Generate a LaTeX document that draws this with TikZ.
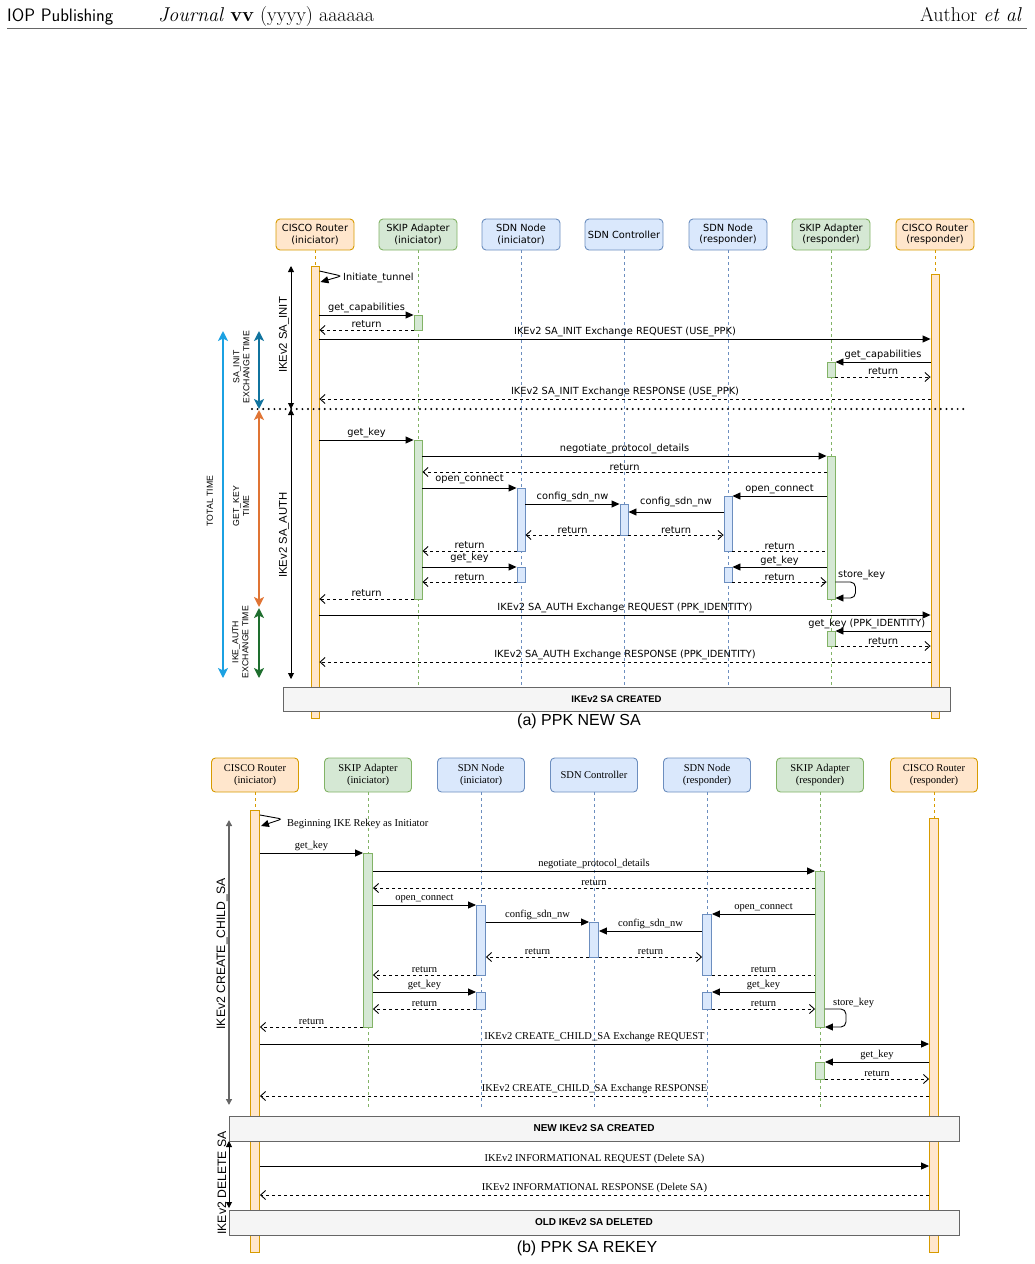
\documentclass[tikz,border=0pt]{standalone}
\usepackage{fontspec}
\usepackage{xcolor}
\usepackage{tikz}
\usetikzlibrary{arrows.meta, positioning}
\newfontfamily\dvs{DejaVu Sans}
\newfontfamily\lsans{Liberation Sans}
\newfontfamily\lserif{Liberation Serif}

\definecolor{orfill}{HTML}{FFE6CC}
\definecolor{orline}{HTML}{D79B00}
\definecolor{grfill}{HTML}{D5E8D4}
\definecolor{grline}{HTML}{82B366}
\definecolor{blfill}{HTML}{DAE8FC}
\definecolor{blline}{HTML}{6C8EBF}
\definecolor{boxfill}{HTML}{F5F5F5}
\definecolor{boxline}{HTML}{666666}
\definecolor{totalc}{HTML}{1BA1E2}
\definecolor{initc}{HTML}{10739E}
\definecolor{keyc}{HTML}{E07434}
\definecolor{authc}{HTML}{1E6E2E}

\tikzset{
  part/.style={draw, rounded corners=4pt, line width=0.9pt, minimum width=78pt, minimum height=31pt,
    align=center, inner sep=1pt, font=\dvs\fontsize{9.8}{11.5}\selectfont},
  partb/.style={part, minimum width=87pt, minimum height=34pt, font=\lserif\fontsize{10.5}{12.5}\selectfont},
  router/.style={fill=orfill, draw=orline},
  skipbox/.style={fill=grfill, draw=grline},
  sdn/.style={fill=blfill, draw=blline},
  life/.style={line width=0.9pt, dash pattern=on 3pt off 3pt},
  bar/.style={draw, line width=0.9pt, minimum width=8pt, inner sep=0pt, anchor=north},
  barb/.style={bar, minimum width=9pt},
  msg/.style={line width=0.9pt, -{Triangle[length=8pt,width=7pt]}},
  ret/.style={line width=0.9pt, dash pattern=on 3pt off 3pt, -{Straight Barb[length=5pt,width=9pt]}},
  retn/.style={line width=0.9pt, dash pattern=on 3pt off 3pt},
  lbl/.style={above, inner sep=2pt, font=\dvs\fontsize{9.8}{11}\selectfont},
  lblb/.style={above, inner sep=2pt, font=\lserif\fontsize{10.5}{12}\selectfont},
  sabox/.style={draw=boxline, fill=boxfill, line width=0.9pt, inner sep=0pt},
  phase/.style={line width=0.9pt, {Triangle[length=6pt,width=6pt]}-{Triangle[length=6pt,width=6pt]}},
  timer/.style={line width=2.5pt, {Stealth[length=10pt,width=10pt,inset=2.5pt]}-{Stealth[length=10pt,width=10pt,inset=2.5pt]}},
  phaselbl/.style={rotate=90, inner sep=1pt, font=\lsans\fontsize{11.3}{13}\selectfont},
  timelbl/.style={rotate=90, align=center, inner sep=0pt, font=\lsans\fontsize{8.7}{10}\selectfont},
}

\begin{document}
\begin{tikzpicture}[x=1pt, y=-1pt]
\useasboundingbox (0,0) rectangle (1034,1264);

% page header
\node[anchor=base west, inner sep=0pt, font=\sffamily\fontsize{18}{20}\selectfont] (iop) at (7,21) {IOP Publishing};
\node[anchor=base west, inner sep=0pt, font=\fontsize{20}{22}\selectfont] (journal) at (158,21) {\textit{Journal} \textbf{vv} (yyyy) aaaaaa};
\node[anchor=base east, inner sep=0pt, font=\fontsize{20}{22}\selectfont] (author) at (1022,21) {Author \textit{et al}};
\draw[black!60, line width=0.8pt] (7,28) -- (1027,28);

% ---------------- (a) PPK NEW SA ----------------
\node[part, router] (crI) at (315,234.5) {CISCO Router\\(iniciator)};
\node[part, skipbox] (skI) at (418,234.5) {SKIP Adapter\\(iniciator)};
\node[part, sdn] (snI) at (521,234.5) {SDN Node\\(iniciator)};
\node[part, sdn] (ctl) at (624,234.5) {SDN Controller};
\node[part, sdn] (snR) at (728,234.5) {SDN Node\\(responder)};
\node[part, skipbox] (skR) at (831,234.5) {SKIP Adapter\\(responder)};
\node[part, router] (crR) at (935,234.5) {CISCO Router\\(responder)};

\foreach \p/\c in {crI/orline, skI/grline, snI/blline, ctl/blline, snR/blline, skR/grline, crR/orline}
  \draw[life, \c] (\p.south) -- (\p |- 0,690);

% activations
\node[bar, router, minimum height=452pt] (crIbar) at (crI |- 0,266) {};
\node[bar, router, minimum height=444pt] (crRbar) at (crR |- 0,274) {};
\node[bar, skipbox, minimum height=15pt] (skIact1) at (skI |- 0,315) {};
\node[bar, skipbox, minimum height=15pt] (skRact1) at (skR |- 0,362) {};
\node[bar, skipbox, minimum height=159pt] (skIact2) at (skI |- 0,440) {};
\node[bar, skipbox, minimum height=143pt] (skRact2) at (skR |- 0,456) {};
\node[bar, sdn, minimum height=63pt] (snIact1) at (snI |- 0,488) {};
\node[bar, sdn, minimum height=31pt] (ctlact) at (ctl |- 0,504) {};
\node[bar, sdn, minimum height=55pt] (snRact1) at (snR |- 0,496) {};
\node[bar, sdn, minimum height=15pt] (snIact2) at (snI |- 0,567) {};
\node[bar, sdn, minimum height=15pt] (snRact2) at (snR |- 0,567) {};
\node[bar, skipbox, minimum height=15pt] (skRact3) at (skR |- 0,631) {};

% messages
\draw[msg, rounded corners=3pt] (crIbar.east |- 0,271) -- ++(22,5) -- ([xshift=1pt]crIbar.east |- 0,282);
\node[anchor=west, inner sep=0pt, font=\dvs\fontsize{9.8}{11}\selectfont] (tunnel) at (343,278) {Initiate\_tunnel};
\draw[msg] (crIbar.east |- 0,315) -- node[lbl]{get\_capabilities} (skIact1.west |- 0,315);
\draw[ret] (skIact1.west |- 0,330) -- node[lbl]{return} (crIbar.east |- 0,330);
\draw[msg] (crIbar.east |- 0,339) -- node[lbl]{IKEv2 SA\_INIT Exchange REQUEST (USE\_PPK)} (crRbar.west |- 0,339);
\draw[msg] (crRbar.west |- 0,362) -- node[lbl]{get\_capabilities} (skRact1.east |- 0,362);
\draw[ret] (skRact1.east |- 0,377) -- node[lbl]{return} (crRbar.west |- 0,377);
\draw[ret] (crRbar.west |- 0,399) -- node[lbl]{IKEv2 SA\_INIT Exchange RESPONSE (USE\_PPK)} (crIbar.east |- 0,399);

\draw[msg] (crIbar.east |- 0,440) -- node[lbl]{get\_key} (skIact2.west |- 0,440);
\draw[msg] (skIact2.east |- 0,456) -- node[lbl]{negotiate\_protocol\_details} (skRact2.west |- 0,456);
\draw[ret] (skRact2.west |- 0,472) -- node[lbl, inner sep=0.5pt]{return} (skIact2.east |- 0,472);
\draw[msg] (skIact2.east |- 0,488) -- node[lbl, yshift=2pt]{open\_connect} (snIact1.west |- 0,488);
\draw[msg] (skRact2.west |- 0,496) -- node[lbl]{open\_connect} (snRact1.east |- 0,496);
\draw[msg] (snIact1.east |- 0,504) -- node[lbl]{config\_sdn\_nw} (ctlact.west |- 0,504);
\draw[msg] (snRact1.west |- 0,512) -- node[lbl, yshift=3pt]{config\_sdn\_nw} (ctlact.east |- 0,512);
\draw[ret] (ctlact.west |- 0,535) -- node[lbl, inner sep=0.5pt]{return} (snIact1.east |- 0,535);
\draw[ret] (ctlact.east |- 0,535) -- node[lbl, inner sep=0.5pt]{return} (snRact1.west |- 0,535);
\draw[ret] (snIact1.west |- 0,551) -- node[lbl]{return} (skIact2.east |- 0,551);
\draw[retn] (snRact1.east |- 0,551) -- node[lbl, inner sep=0.5pt]{return} (skRact2.west |- 0,551);
\draw[msg] (skIact2.east |- 0,567) -- node[lbl, yshift=2pt]{get\_key} (snIact2.west |- 0,567);
\draw[msg] (skRact2.west |- 0,567) -- node[lbl, inner sep=0.5pt]{get\_key} (snRact2.east |- 0,567);
\draw[ret] (snIact2.west |- 0,582) -- node[lbl, inner sep=0.5pt]{return} (skIact2.east |- 0,582);
\draw[ret] (snRact2.east |- 0,582) -- node[lbl, inner sep=0.5pt]{return} (skRact2.west |- 0,582);
\draw[msg, rounded corners=5pt] (skRact2.east |- 0,582) -- ++(20,0) -- ++(0,16) -- (skRact2.east |- 0,598);
\node[anchor=west, inner sep=0pt, font=\dvs\fontsize{9.8}{11}\selectfont] (storea) at (838,575) {store\_key};
\draw[ret] (skIact2.west |- 0,599) -- node[lbl]{return} (crIbar.east |- 0,599);

\draw[msg] (crIbar.east |- 0,615) -- node[lbl]{IKEv2 SA\_AUTH Exchange REQUEST (PPK\_IDENTITY)} (crRbar.west |- 0,615);
\draw[msg] (crRbar.west |- 0,631) -- node[lbl, pos=0.67]{get\_key (PPK\_IDENTITY)} (skRact3.east |- 0,631);
\draw[ret] (skRact3.east |- 0,646) -- node[lbl, inner sep=0.5pt]{return} (crRbar.west |- 0,646);
\draw[ret] (crRbar.west |- 0,662) -- node[lbl]{IKEv2 SA\_AUTH Exchange RESPONSE (PPK\_IDENTITY)} (crIbar.east |- 0,662);

\node[sabox, minimum width=667pt, minimum height=24pt, font=\lsans\bfseries\fontsize{9.5}{11}\selectfont] (sacreated) at (616.5,699) {IKEv2 SA CREATED};
\node[font=\lsans\fontsize{16}{18}\selectfont] (capa) at (579,721) {(a) PPK NEW SA};

% phases and timings
\draw[line width=2.2pt, line cap=round, dash pattern=on 0pt off 5.6pt] (252,409) -- (966,409);
\coordinate (initTop) at (291,266);
\coordinate (initBot) at (291,409);
\coordinate (authBot) at (291,679);
\draw[phase] (initTop) -- (initBot);
\draw[phase] (initBot) -- (authBot);
\node[phaselbl] (lblinit) at (284,335) {IKEv2 SA\_INIT};
\node[phaselbl] (lblauth) at (284,535) {IKEv2 SA\_AUTH};

\coordinate (totTop) at (223,331);
\coordinate (totBot) at (223,678);
\coordinate (exTop) at (259,331);
\coordinate (exMid) at (259,409.5);
\coordinate (keyBot) at (259,607.5);
\coordinate (exBot) at (259,678);
\draw[timer, totalc] (totTop) -- (totBot);
\draw[timer, initc] (exTop) -- ([yshift=0.5pt]exMid);
\draw[timer, keyc] ([yshift=-0.5pt]exMid) -- ([yshift=0.5pt]keyBot);
\draw[timer, authc] ([yshift=-0.5pt]keyBot) -- (exBot);
\node[timelbl] (lbltotal) at (210,501) {TOTAL TIME};
\node[timelbl] (lblsainit) at (241.5,367) {SA\_INIT\\EXCHANGE TIME};
\node[timelbl] (lblgetkey) at (241,506) {GET\_KEY\\TIME};
\node[timelbl] (lblikeauth) at (240.5,642) {IKE\_AUTH\\EXCHANGE TIME};

% ---------------- (b) PPK SA REKEY ----------------
\node[partb, router] (crI2) at (255,775) {CISCO Router\\(iniciator)};
\node[partb, skipbox] (skI2) at (368,775) {SKIP Adapter\\(iniciator)};
\node[partb, sdn] (snI2) at (481,775) {SDN Node\\(iniciator)};
\node[partb, sdn] (ctl2) at (594,775) {SDN Controller};
\node[partb, sdn] (snR2) at (707,775) {SDN Node\\(responder)};
\node[partb, skipbox] (skR2) at (820,775) {SKIP Adapter\\(responder)};
\node[partb, router] (crR2) at (934,775) {CISCO Router\\(responder)};

\foreach \p/\c in {crI2/orline, skI2/grline, snI2/blline, ctl2/blline, snR2/blline, skR2/grline, crR2/orline}
  \draw[life, \c] (\p.south) -- (\p |- 0,1110);

\node[barb, router, minimum height=442pt] (crI2bar) at (crI2 |- 0,810) {};
\node[barb, router, minimum height=434pt] (crR2bar) at (crR2 |- 0,818) {};
\node[barb, skipbox, minimum height=174pt] (skI2act) at (skI2 |- 0,853) {};
\node[barb, skipbox, minimum height=156pt] (skR2act1) at (skR2 |- 0,871) {};
\node[barb, sdn, minimum height=70pt] (snI2act1) at (snI2 |- 0,905) {};
\node[barb, sdn, minimum height=35pt] (ctl2act) at (ctl2 |- 0,922) {};
\node[barb, sdn, minimum height=61pt] (snR2act1) at (snR2 |- 0,914) {};
\node[barb, sdn, minimum height=17pt] (snI2act2) at (snI2 |- 0,992) {};
\node[barb, sdn, minimum height=17pt] (snR2act2) at (snR2 |- 0,992) {};
\node[barb, skipbox, minimum height=17pt] (skR2act2) at (skR2 |- 0,1062) {};

\draw[msg, rounded corners=3pt] (crI2bar.east |- 0,815) -- ++(22,4) -- ([xshift=1pt]crI2bar.east |- 0,826);
\node[anchor=west, inner sep=0pt, font=\lserif\fontsize{10.5}{12}\selectfont] (rekey) at (287,824) {Beginning IKE Rekey as Initiator};
\draw[msg] (crI2bar.east |- 0,853) -- node[lblb]{get\_key} (skI2act.west |- 0,853);
\draw[msg] (skI2act.east |- 0,871) -- node[lblb]{negotiate\_protocol\_details} (skR2act1.west |- 0,871);
\draw[ret] (skR2act1.west |- 0,888) -- node[lblb]{return} (skI2act.east |- 0,888);
\draw[msg] (skI2act.east |- 0,905) -- node[lblb]{open\_connect} (snI2act1.west |- 0,905);
\draw[msg] (skR2act1.west |- 0,914) -- node[lblb]{open\_connect} (snR2act1.east |- 0,914);
\draw[msg] (snI2act1.east |- 0,922) -- node[lblb]{config\_sdn\_nw} (ctl2act.west |- 0,922);
\draw[msg] (snR2act1.west |- 0,931) -- node[lblb]{config\_sdn\_nw} (ctl2act.east |- 0,931);
\draw[ret] (ctl2act.west |- 0,957) -- node[lblb]{return} (snI2act1.east |- 0,957);
\draw[ret] (ctl2act.east |- 0,957) -- node[lblb]{return} (snR2act1.west |- 0,957);
\draw[ret] (snI2act1.west |- 0,975) -- node[lblb]{return} (skI2act.east |- 0,975);
\draw[retn] (snR2act1.east |- 0,975) -- node[lblb]{return} (skR2act1.west |- 0,975);
\draw[msg] (skI2act.east |- 0,992) -- node[lblb]{get\_key} (snI2act2.west |- 0,992);
\draw[msg] (skR2act1.west |- 0,992) -- node[lblb]{get\_key} (snR2act2.east |- 0,992);
\draw[ret] (snI2act2.west |- 0,1009) -- node[lblb]{return} (skI2act.east |- 0,1009);
\draw[ret] (snR2act2.east |- 0,1009) -- node[lblb]{return} (skR2act1.west |- 0,1009);
\draw[msg, rounded corners=5pt] (skR2act1.east |- 0,1009) -- ++(21,0) -- ++(0,18) -- (skR2act1.east |- 0,1027);
\node[anchor=west, inner sep=0pt, font=\lserif\fontsize{10.5}{12}\selectfont] (storeb) at (833,1003) {store\_key};
\draw[ret] (skI2act.west |- 0,1027) -- node[lblb]{return} (crI2bar.east |- 0,1027);
\draw[msg] (crI2bar.east |- 0,1044) -- node[lblb]{IKEv2 CREATE\_CHILD\_SA Exchange REQUEST} (crR2bar.west |- 0,1044);
\draw[msg] (crR2bar.west |- 0,1062) -- node[lblb]{get\_key} (skR2act2.east |- 0,1062);
\draw[ret] (skR2act2.east |- 0,1079) -- node[lblb]{return} (crR2bar.west |- 0,1079);
\draw[ret] (crR2bar.west |- 0,1096) -- node[lblb]{IKEv2 CREATE\_CHILD\_SA Exchange RESPONSE} (crI2bar.east |- 0,1096);

\node[sabox, minimum width=730pt, minimum height=25pt, font=\lsans\bfseries\fontsize{10}{12}\selectfont] (newsa) at (594,1128.5) {NEW IKEv2 SA CREATED};
\draw[msg] (crI2bar.east |- 0,1166) -- node[lblb]{IKEv2 INFORMATIONAL REQUEST (Delete SA)} (crR2bar.west |- 0,1166);
\draw[ret] (crR2bar.west |- 0,1195) -- node[lblb]{IKEv2 INFORMATIONAL RESPONSE (Delete SA)} (crI2bar.east |- 0,1195);
\node[sabox, minimum width=730pt, minimum height=25pt, font=\lsans\bfseries\fontsize{10}{12}\selectfont] (oldsa) at (594,1222.5) {OLD IKEv2 SA DELETED};
\node[font=\lsans\fontsize{16}{18}\selectfont] (capb) at (587,1248) {(b) PPK SA REKEY};

\coordinate (childTop) at (229,820);
\coordinate (childBot) at (229,1105);
\coordinate (delTop) at (229,1141);
\coordinate (delBot) at (229,1208);
\draw[phase, boxline, line width=1.4pt] (childTop) -- (childBot);
\draw[phase] (delTop) -- (delBot);
\node[phaselbl, fill=white, font=\lsans\fontsize{12.2}{14}\selectfont] (lblchild) at (222,954) {IKEv2 CREATE\_CHILD\_SA};
\node[phaselbl, font=\lsans\fontsize{12.2}{14}\selectfont] (lbldel) at (222,1183) {IKEv2 DELETE SA};
\end{tikzpicture}
\end{document}
